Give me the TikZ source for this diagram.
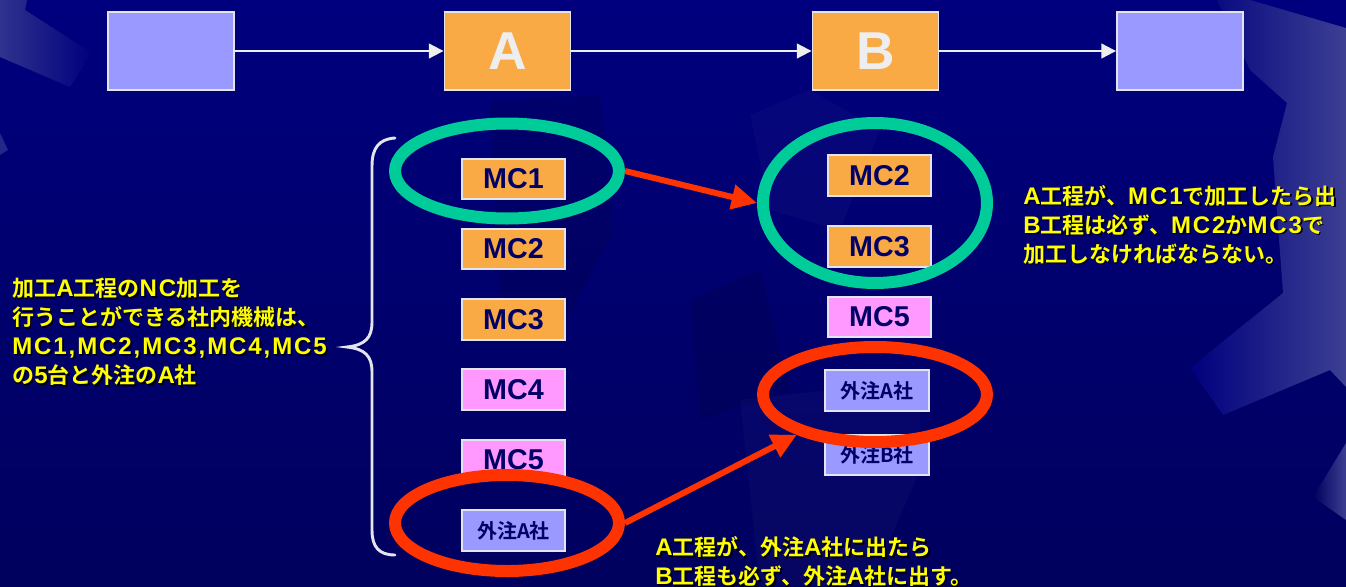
\documentclass[tikz,border=0pt]{standalone}
\usepackage{fontspec}
\setmainfont{Liberation Sans}
\newfontfamily\jp{Noto Sans CJK JP Bold}
\newfontfamily\lat{Liberation Sans Bold}[LetterSpace=8]
\usetikzlibrary{arrows.meta,shapes.geometric}
\definecolor{bgtop}{HTML}{00007E}
\definecolor{bgbot}{HTML}{00005E}
\definecolor{gearlt}{HTML}{3C3F92}
\definecolor{lav}{HTML}{9999FF}
\definecolor{org}{HTML}{F9AA44}
\definecolor{pnk}{HTML}{FF99FF}
\definecolor{navy}{HTML}{000066}
\definecolor{grn}{HTML}{00CC99}
\definecolor{redc}{HTML}{FF3300}
\definecolor{yel}{HTML}{FFFF00}
\definecolor{edge}{HTML}{E4E4EC}
\definecolor{letter}{HTML}{EEEEEE}
\newcommand\shd[1]{\leavevmode\rlap{\kern1.2pt\raisebox{-1.2pt}{\textcolor{black}{#1}}}#1}
\newcommand\LL[1]{{\lat\fontsize{18}{21.75}\selectfont #1}}
\tikzset{
  topbox/.style={draw=edge, line width=1.4pt, minimum width=94.5pt, minimum height=58.5pt, inner sep=0pt,
    font=\bfseries\fontsize{40}{40}\selectfont, text=letter},
  mcbox/.style={draw=edge, line width=1.4pt, minimum width=77.5pt, minimum height=30.5pt, inner sep=0pt,
    font=\bfseries\fontsize{21.5}{21.5}\selectfont, text=navy},
  gaibox/.style={mcbox, fill=lav, font=\jp\fontsize{15}{15}\selectfont},
  ring/.style={ellipse, draw=#1, line width=9pt, inner sep=0pt, minimum width=168pt},
  warrow/.style={draw=letter, line width=1.5pt, -{Triangle[length=11pt,width=11pt]}},
  rarrow/.style={draw=redc, line width=4.5pt, -{Triangle[length=19pt,width=18pt]}},
  note/.style={text=yel, align=left, anchor=west, inner sep=0pt, font=\jp\fontsize{16.5}{21.75}\selectfont}
}
\begin{document}
\begin{tikzpicture}[x=0.75pt,y=-0.75pt]
\useasboundingbox (0,0) rectangle (1346,586);
\clip (0,0) rectangle (1346,586);
\shade[top color=bgtop, bottom color=bgbot] (0,0) rectangle (1346,586);
% background gear fragments
\shade[left color=bgtop, right color=gearlt] (1217,0) -- (1250,0) -- (1346,28) -- (1346,387) -- (1330,370)
  -- (1223,415) -- (1190,368) -- (1283,293) -- (1273,157) -- (1287,103) -- (1250,70) -- cycle;
\shade[left color=bgbot, right color=gearlt] (1346,443) -- (1313,497) -- (1346,520) -- cycle;
\shade[left color=gearlt!80!bgtop, right color=bgtop] (0,0) -- (27,0) -- (25,10) -- (92,53) -- (70,87) -- (0,57) -- cycle;
\fill[gearlt!60!bgtop] (0,133) -- (8,150) -- (0,155) -- cycle;
\fill[black, opacity=0.10] (490,100) -- (600,95) -- (615,230) -- (560,330) -- (500,300) -- cycle;
\fill[white, opacity=0.025] (750,115) -- (810,90) -- (880,130) -- (840,230) -- (770,210) -- cycle;
\fill[black, opacity=0.10] (690,300) -- (760,270) -- (790,390) -- (700,420) -- cycle;
\fill[white, opacity=0.025] (740,400) -- (920,380) -- (920,470) -- (870,586) -- (760,586) -- cycle;

% top process row
\node[topbox, fill=lav] (L) at (171,51) {};
\node[topbox, fill=org] (A) at (507.5,51) {A};
\node[topbox, fill=org] (B) at (875.5,51) {B};
\node[topbox, fill=lav] (R) at (1180,51) {};
\draw[warrow] (L) -- (A);
\draw[warrow] (A) -- (B);
\draw[warrow] (B) -- (R);

% left column machines
\node[mcbox, fill=org] (a1) at (513.5,179) {MC1};
\node[mcbox, fill=org] (a2) at (513.5,249) {MC2};
\node[mcbox, fill=org] (a3) at (513.5,319.5) {MC3};
\node[mcbox, fill=pnk] (a4) at (513.5,389.5) {MC4};
\node[mcbox, fill=pnk] (a5) at (513.5,460) {MC5};
\node[gaibox] (a6) at (513.5,530.5) {外注A社};

% right column machines
\node[mcbox, fill=org] (b2) at (879.5,175.5) {MC2};
\node[mcbox, fill=org] (b3) at (879.5,246.5) {MC3};
\node[mcbox, fill=pnk] (b5) at (879.5,317) {MC5};
\node[gaibox] (b6) at (877,390.5) {外注A社};
\node[gaibox] (b7) at (877,455) {外注B社};

% rings
\node[ring=grn, minimum height=71.25pt] (gl) at (507,171) {};
\node[ring=grn, minimum height=120pt] (gr) at (875,203) {};
\node[ring=redc, minimum height=72pt] (rl) at (507,523) {};
\node[ring=redc, minimum height=71.25pt] (rr) at (875,394.5) {};

% red arrows
\draw[rarrow] (gl.east) -- (gr.west);
\draw[rarrow] (rl.east) -- (rr);

% brace
\draw[draw=edge, line width=2.2pt, line cap=round] (395,138) .. controls (379,139) and (372,148) .. (372,166)
  -- (372,322) .. controls (372,338) and (365,345) .. (347,347)
  .. controls (365,349) and (372,356) .. (372,372) -- (372,530)
  .. controls (372,547) and (379,555) .. (395,555);

% texts
\node[note] (t1) at (12,333) {\shd{加工\LL{A}工程の\LL{NC}加工を}\\\shd{行うことができる社内機械は、}\\\shd{\LL{MC1,MC2,MC3,MC4,MC5}}\\\shd{の\LL{5}台と外注の\LL{A}社}};
\node[note] (t2) at (1023,225.5) {\shd{\LL{A}工程が、\LL{MC1}で加工したら出}\\\shd{\LL{B}工程は必ず、\LL{MC2}か\LL{MC3}で}\\\shd{加工しなければならない。}};
\node[note] (t3) at (655,562.5) {\shd{\LL{A}工程が、外注\LL{A}社に出たら}\\\shd{\LL{B}工程も必ず、外注\LL{A}社に出す。}};
\end{tikzpicture}
\end{document}
